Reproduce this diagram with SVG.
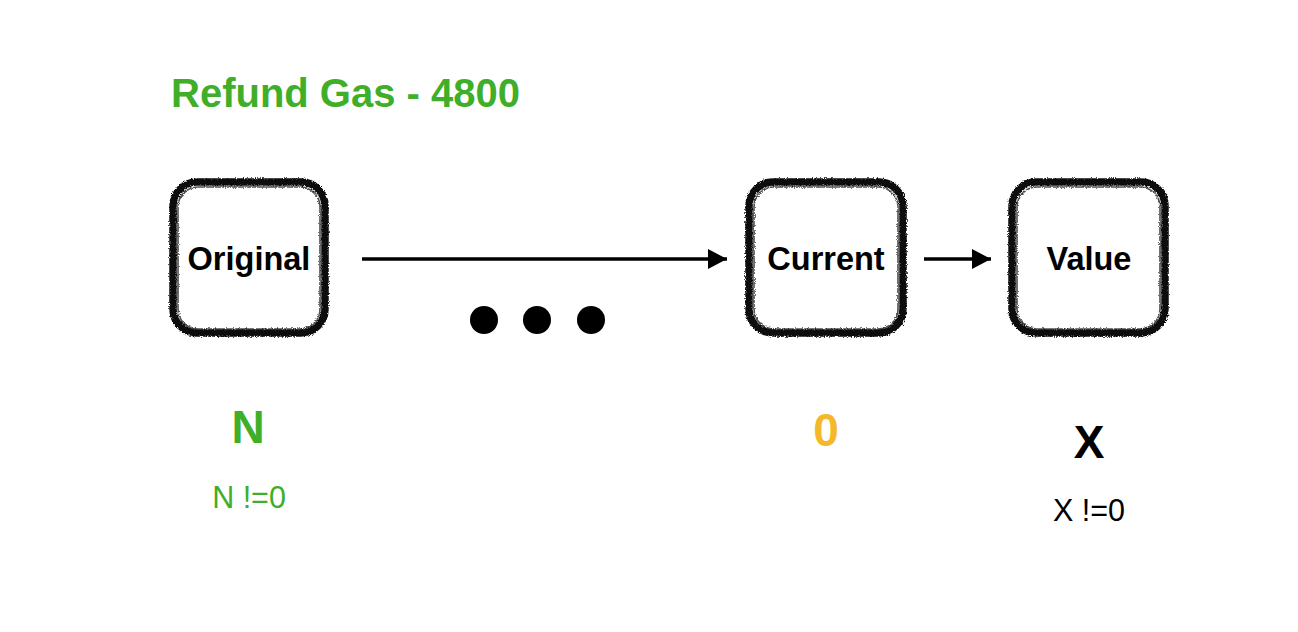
<svg xmlns="http://www.w3.org/2000/svg" width="1298" height="632" viewBox="0 0 1298 632">
<defs>
<style>
.bx{fill:#fff;stroke:#111;stroke-width:7.5}
.bx2{fill:none;stroke:#222;stroke-width:1.6;opacity:.8}
.lbl{font-family:"Liberation Sans",Arial,sans-serif;font-weight:bold;font-size:32.5px;fill:#000;text-anchor:middle}
.big{font-family:"Liberation Sans",Arial,sans-serif;font-weight:bold;font-size:46px;text-anchor:middle}
.sub{font-family:"Liberation Sans",Arial,sans-serif;font-size:30.5px;text-anchor:middle}
.con{stroke:#000;stroke-width:3.5;fill:none}
</style>
<filter id="rough" x="-10%" y="-10%" width="120%" height="120%">
<feTurbulence type="fractalNoise" baseFrequency="0.9" numOctaves="2" seed="3" result="n"/>
<feDisplacementMap in="SourceGraphic" in2="n" scale="4" xChannelSelector="R" yChannelSelector="G"/>
</filter>
<marker id="ah" markerUnits="userSpaceOnUse" markerWidth="20" markerHeight="20" refX="19" refY="10" orient="auto">
<polygon points="0,0 19,10 0,20" fill="#000"/>
</marker>
</defs>
<rect width="1298" height="632" fill="#fff"/>
<text x="171" y="107" style="font-family:'Liberation Sans',Arial,sans-serif;font-weight:bold;font-size:40px;fill:#3FAE29">Refund Gas - 4800</text>
<g id="connectors">
<line class="con" x1="362" y1="259" x2="727" y2="259" marker-end="url(#ah)"/>
<line class="con" x1="924" y1="259" x2="991" y2="259" marker-end="url(#ah)"/>
</g>
<g id="ellipsis">
<circle cx="484" cy="320" r="14" fill="#000"/>
<circle cx="537" cy="320" r="14" fill="#000"/>
<circle cx="591" cy="320" r="14" fill="#000"/>
</g>
<g id="original">
<g filter="url(#rough)">
<rect class="bx" x="173" y="182" width="152" height="151" rx="24"/>
<rect class="bx2" x="178" y="187" width="142" height="142" rx="20"/>
</g>
<text class="lbl" x="249" y="270">Original</text>
</g>
<g id="current">
<g filter="url(#rough)">
<rect class="bx" x="749" y="182" width="154" height="151" rx="24"/>
<rect class="bx2" x="754" y="187" width="144" height="142" rx="20"/>
</g>
<text class="lbl" x="826" y="270">Current</text>
</g>
<g id="value">
<g filter="url(#rough)">
<rect class="bx" x="1012" y="182" width="153" height="151" rx="24"/>
<rect class="bx2" x="1017" y="187" width="143" height="142" rx="20"/>
</g>
<text class="lbl" x="1089" y="270">Value</text>
</g>
<g id="n-label">
<text class="big" x="248" y="443" fill="#3FAE29">N</text>
<text class="sub" x="249" y="508" fill="#3FAE29">N !=0</text>
</g>
<g id="zero-label">
<text class="big" x="826" y="446" fill="#F4B82A">0</text>
</g>
<g id="x-label">
<text class="big" x="1089" y="458" fill="#000">X</text>
<text class="sub" x="1089" y="521" fill="#000">X !=0</text>
</g>
</svg>
